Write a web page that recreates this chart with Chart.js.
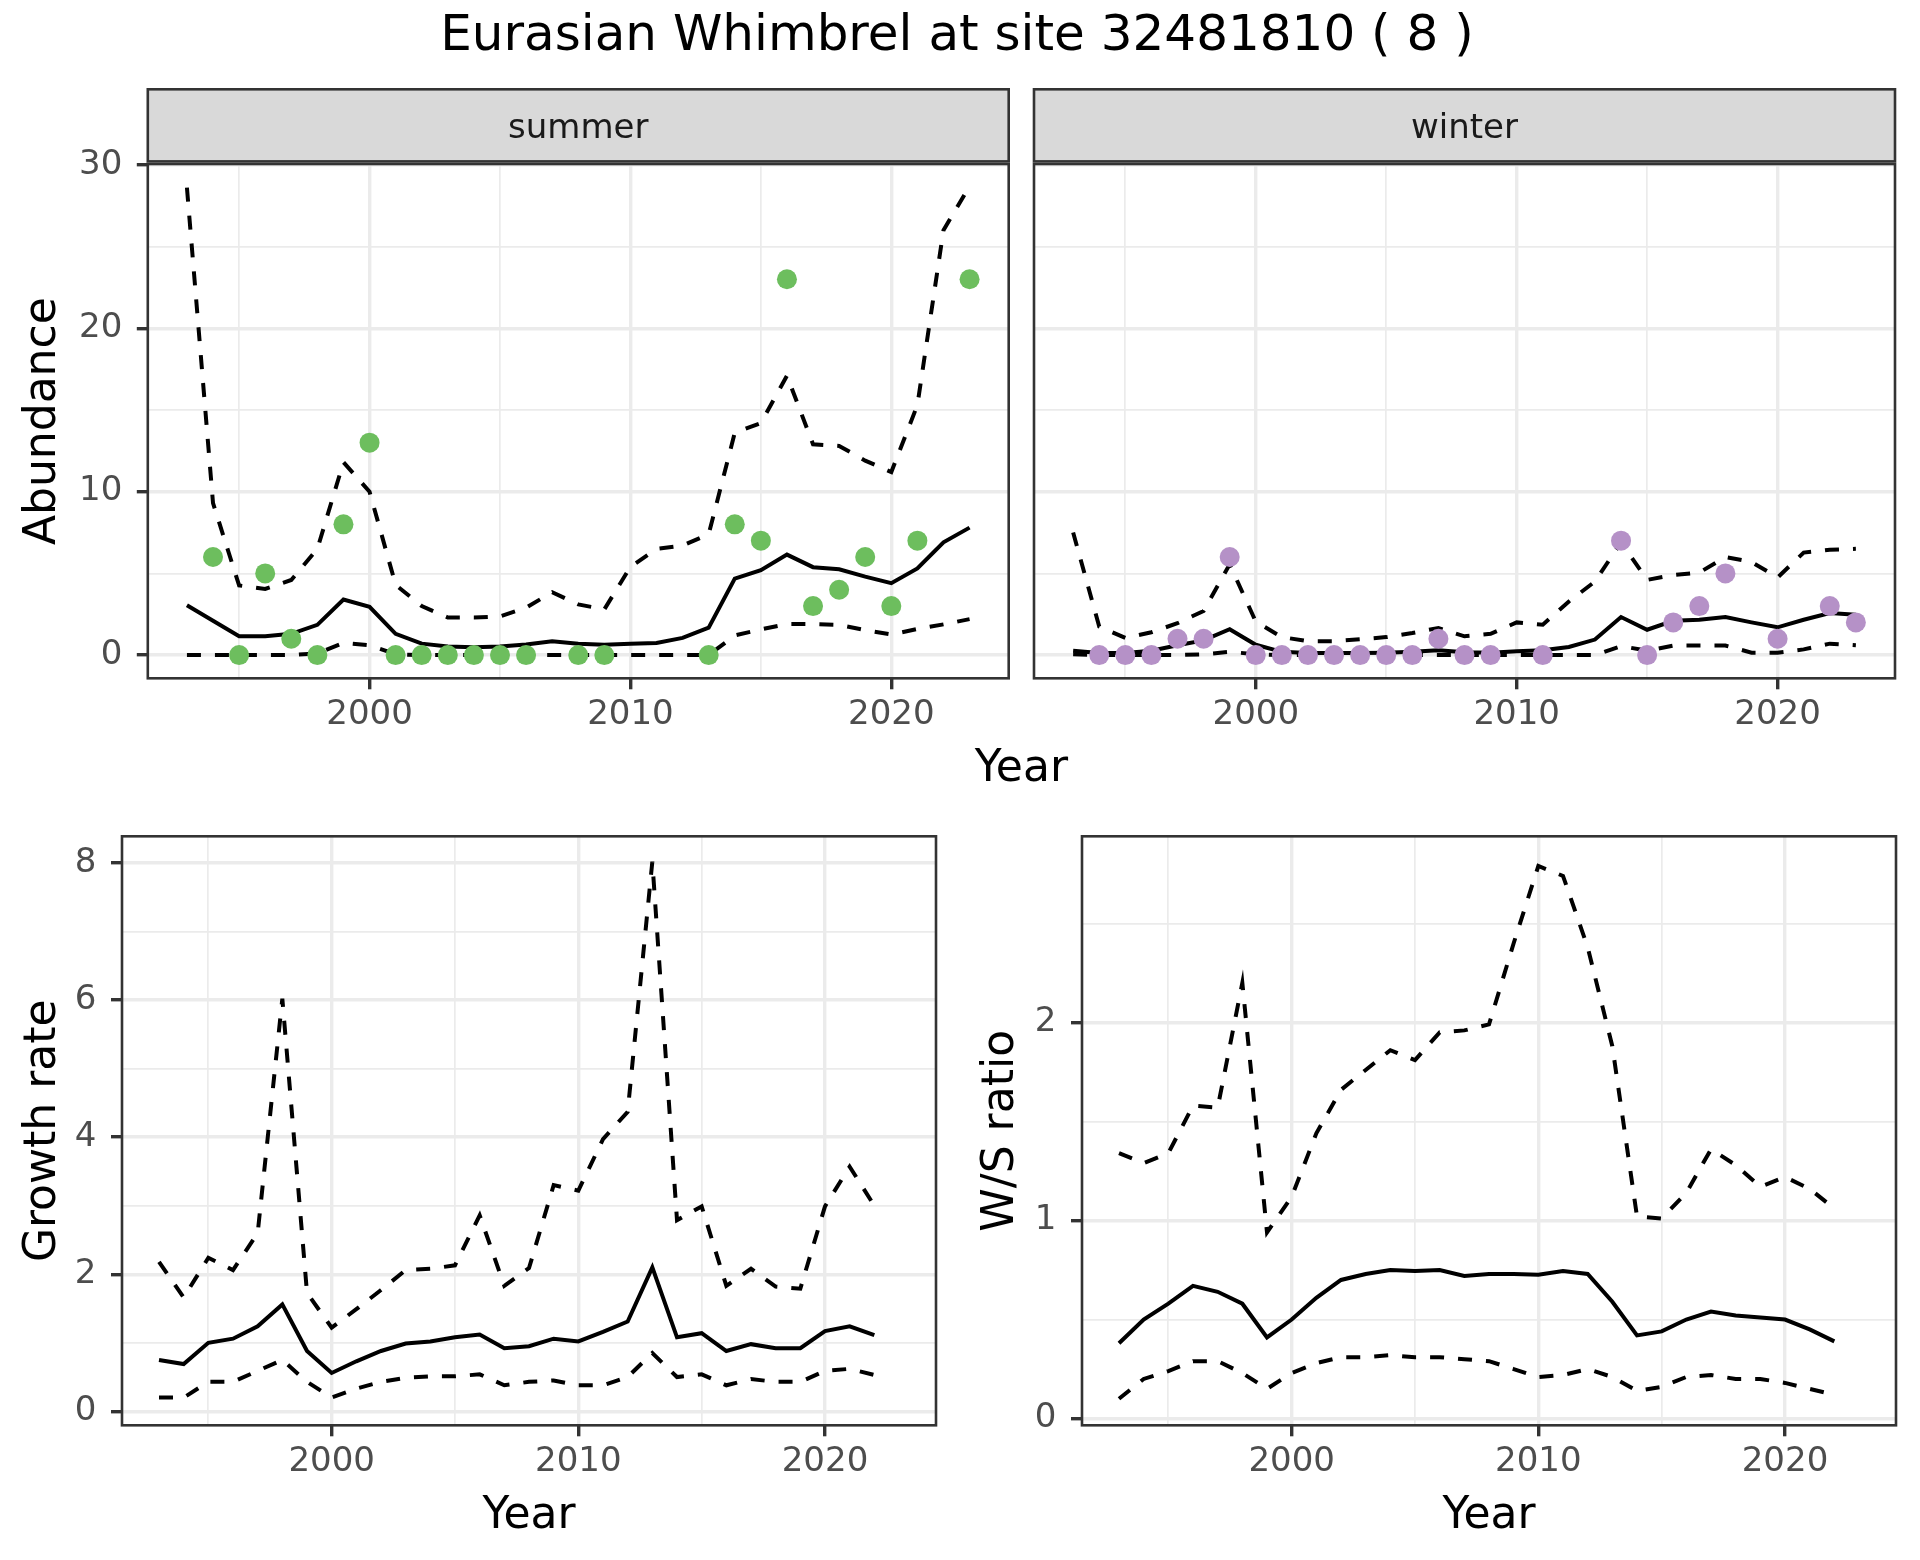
<!DOCTYPE html>
<html>
<head>
<meta charset="utf-8">
<script src="https://cdn.jsdelivr.net/npm/chart.js@4.4.1/dist/chart.umd.min.js"></script>
<style>
  html, body { margin: 0; padding: 0; background: #ffffff; }
  #page { position: relative; width: 1920px; height: 1560px; overflow: hidden; font-family: "DejaVu Sans", sans-serif; }
  #page canvas { position: absolute; left: 0; top: 0; }
  .label { position: absolute; line-height: 1; white-space: nowrap; color: #000000; text-align: center; }
</style>
</head>
<body>
<div id="page">
  <canvas id="summerChart" width="1920" height="1560"></canvas>
  <canvas id="winterChart" width="1920" height="1560"></canvas>
  <canvas id="growthChart" width="1920" height="1560"></canvas>
  <canvas id="ratioChart" width="1920" height="1560"></canvas>
  <div class="label" style="left:0;width:1914px;top:7.7px;font-size:50px;">Eurasian Whimbrel at site 32481810 ( 8 )</div>
  <div class="label" style="left:921.4px;width:200px;top:743.5px;font-size:44px;">Year</div>
</div>
<script>
// years of the modelled series
const years = [1993, 1994, 1995, 1996, 1997, 1998, 1999, 2000, 2001, 2002, 2003, 2004, 2005, 2006, 2007,
  2008, 2009, 2010, 2011, 2012, 2013, 2014, 2015, 2016, 2017, 2018, 2019, 2020, 2021, 2022, 2023];
const rateYears = [1993, 1994, 1995, 1996, 1997, 1998, 1999, 2000, 2001, 2002, 2003, 2004, 2005, 2006, 2007,
  2008, 2009, 2010, 2011, 2012, 2013, 2014, 2015, 2016, 2017, 2018, 2019, 2020, 2021, 2022];

// summer abundance
const summerMean = [3.05, 2.1, 1.16, 1.16, 1.3, 1.85, 3.4, 2.95, 1.3, 0.7, 0.52, 0.48, 0.52, 0.65, 0.84,
  0.7, 0.63, 0.7, 0.74, 1.05, 1.68, 4.68, 5.2, 6.15, 5.38, 5.25, 4.8, 4.4, 5.3, 6.9, 7.8];
const summerLower = [0, 0, 0, 0, 0, 0.1, 0.75, 0.6, 0.05, 0, 0, 0, 0, 0, 0,
  0, 0, 0, 0, 0, 0, 1.2, 1.57, 1.9, 1.9, 1.85, 1.53, 1.26, 1.6, 1.88, 2.2];
const summerUpper = [28.6, 9.3, 4.26, 4.05, 4.6, 6.5, 11.8, 10.0, 4.3, 3.0, 2.3, 2.3, 2.37, 2.9, 3.85,
  3.1, 2.8, 5.4, 6.5, 6.7, 7.4, 13.6, 14.2, 17.1, 12.9, 12.8, 11.9, 11.2, 15.3, 26.0, 28.7];
const summerObsYears = [1994, 1995, 1996, 1997, 1998, 1999, 2000, 2001, 2002, 2003, 2004, 2005, 2006,
  2008, 2009, 2013, 2014, 2015, 2016, 2017, 2018, 2019, 2020, 2021, 2023];
const summerObs = [6, 0, 5, 1, 0, 8, 13, 0, 0, 0, 0, 0, 0, 0, 0, 0, 8, 7, 23, 3, 4, 6, 3, 7, 23];

// winter abundance
const winterMean = [0.27, 0.13, 0.13, 0.27, 0.6, 0.9, 1.58, 0.63, 0.2, 0.13, 0.13, 0.13, 0.15, 0.2, 0.3,
  0.17, 0.15, 0.23, 0.29, 0.5, 0.95, 2.33, 1.55, 2.1, 2.16, 2.33, 2.0, 1.7, 2.16, 2.57, 2.47];
const winterLower = [0.05, 0, 0, 0, 0, 0.05, 0.2, 0.05, 0, 0, 0, 0, 0, 0, 0,
  0, 0, 0, 0, 0, 0, 0.55, 0.27, 0.58, 0.58, 0.58, 0.15, 0.15, 0.35, 0.7, 0.6];
const winterUpper = [7.5, 1.75, 1.05, 1.4, 1.95, 2.7, 5.55, 2.05, 1.1, 0.85, 0.85, 0.97, 1.1, 1.35, 1.66,
  1.15, 1.3, 2.0, 1.86, 3.28, 4.5, 6.9, 4.6, 4.9, 5.05, 6.0, 5.7, 4.75, 6.27, 6.45, 6.5];
const winterObsYears = [1994, 1995, 1996, 1997, 1998, 1999, 2000, 2001, 2002, 2003, 2004, 2005, 2006,
  2007, 2008, 2009, 2011, 2014, 2015, 2016, 2017, 2018, 2020, 2022, 2023];
const winterObs = [0, 0, 0, 1, 1, 6, 0, 0, 0, 0, 0, 0, 0, 1, 0, 0, 0, 7, 0, 2, 3, 5, 1, 3, 2];

// growth rate
const growthMean = [0.75, 0.69, 1.0, 1.06, 1.24, 1.56, 0.88, 0.56, 0.73, 0.88, 0.99, 1.02, 1.08, 1.12, 0.92,
  0.95, 1.06, 1.02, 1.16, 1.31, 2.1, 1.08, 1.14, 0.88, 0.98, 0.92, 0.92, 1.17, 1.24, 1.11];
const growthLower = [0.2, 0.2, 0.43, 0.43, 0.59, 0.75, 0.43, 0.2, 0.33, 0.43, 0.49, 0.51, 0.51, 0.54, 0.38,
  0.43, 0.45, 0.38, 0.38, 0.5, 0.85, 0.5, 0.54, 0.38, 0.47, 0.43, 0.43, 0.59, 0.62, 0.53];
const growthUpper = [2.18, 1.66, 2.24, 2.06, 2.6, 6.02, 1.73, 1.22, 1.49, 1.77, 2.06, 2.08, 2.13, 2.86, 1.83,
  2.09, 3.3, 3.22, 3.97, 4.37, 8.02, 2.79, 2.99, 1.83, 2.08, 1.82, 1.79, 2.99, 3.57, 3.0];

// winter / summer ratio
const ratioMean = [0.38, 0.5, 0.58, 0.67, 0.64, 0.58, 0.41, 0.5, 0.61, 0.7, 0.73, 0.75, 0.745, 0.75, 0.72,
  0.73, 0.73, 0.726, 0.745, 0.73, 0.59, 0.42, 0.44, 0.5, 0.54, 0.52, 0.51, 0.5, 0.45, 0.39];
const ratioLower = [0.1, 0.2, 0.24, 0.29, 0.29, 0.23, 0.15, 0.23, 0.28, 0.31, 0.31, 0.32, 0.31, 0.31, 0.3,
  0.29, 0.25, 0.21, 0.22, 0.25, 0.21, 0.14, 0.16, 0.21, 0.22, 0.2, 0.2, 0.18, 0.15, 0.12];
const ratioUpper = [1.34, 1.29, 1.34, 1.58, 1.57, 2.2, 0.94, 1.12, 1.44, 1.66, 1.76, 1.86, 1.81, 1.95, 1.96,
  1.99, 2.4, 2.79, 2.74, 2.38, 1.88, 1.02, 1.01, 1.14, 1.36, 1.28, 1.17, 1.22, 1.16, 1.06];

// ticks (all grid lines) and the labelled ones
const yearTicks = [1995, 2000, 2005, 2010, 2015, 2020];
const yearLabels = [2000, 2010, 2020];
const abundanceTicks = [0, 5, 10, 15, 20, 25, 30];
const abundanceLabels = [0, 10, 20, 30];
const growthTicks = [0, 1, 2, 3, 4, 5, 6, 7, 8];
const growthLabels = [0, 2, 4, 6, 8];
const ratioTicks = [0, 0.5, 1, 1.5, 2, 2.5];
const ratioLabels = [0, 1, 2];

const GREEN = '#6DBE5E';
const PURPLE = '#B591C7';

Chart.defaults.font.family = '"DejaVu Sans", sans-serif';
Chart.defaults.color = '#4D4D4D';

const isIn = (list, v) => list.some((t) => Math.abs(t - v) < 1e-9);
const pairs = (xs, ys) => xs.map((x, i) => ({ x, y: ys[i] }));

function bandDatasets(xs, mean, lower, upper) {
  const base = { type: 'line', borderColor: '#000000', borderWidth: 4, pointRadius: 0, fill: false, tension: 0 };
  return [
    { ...base, data: pairs(xs, upper), borderDash: [14, 14], order: 3 },
    { ...base, data: pairs(xs, lower), borderDash: [14, 14], order: 3 },
    { ...base, data: pairs(xs, mean), order: 2 }
  ];
}

function obsDataset(xs, ys, colour) {
  return {
    type: 'scatter', data: pairs(xs, ys), showLine: false, order: 1,
    pointRadius: 10, pointHoverRadius: 10, pointBorderWidth: 0,
    pointBackgroundColor: colour, borderColor: colour
  };
}

function gridStyle(majors, showTicks) {
  return {
    color: '#EBEBEB',
    lineWidth: (c) => (isIn(majors, c.tick.value) ? 3.4 : 1.7),
    drawTicks: showTicks,
    tickLength: showTicks ? 11 : 0,
    tickWidth: 3.4,
    tickColor: (c) => (isIn(majors, c.tick.value) ? '#333333' : 'rgba(0,0,0,0)')
  };
}

function xAxis(height, title) {
  return {
    type: 'linear', min: 1991.5, max: 2024.5,
    afterBuildTicks: (s) => { s.ticks = yearTicks.map((v) => ({ value: v })); },
    afterFit: (s) => { s.height = height; },
    border: { display: false },
    grid: gridStyle(yearLabels, true),
    ticks: {
      color: '#4D4D4D', font: { size: 34 }, padding: 5, maxRotation: 0, autoSkip: false,
      callback: (v) => (isIn(yearLabels, v) ? String(v) : '')
    },
    title: title
      ? { display: true, text: title, color: '#000000', font: { size: 44 }, padding: { top: 0, bottom: 16.6 } }
      : { display: false }
  };
}

function yAxis(min, max, tickValues, majors, width, showLabels, title, titlePad) {
  return {
    type: 'linear', min, max,
    afterBuildTicks: (s) => { s.ticks = tickValues.map((v) => ({ value: v })); },
    afterFit: (s) => { s.width = width; },
    border: { display: false },
    grid: gridStyle(majors, showLabels),
    ticks: {
      display: showLabels, color: '#4D4D4D', font: { size: 34 }, padding: 14.5, autoSkip: false,
      callback: (v) => (isIn(majors, v) ? String(v) : '')
    },
    title: title
      ? { display: true, text: title, color: '#000000', font: { size: 44 }, padding: { top: titlePad, bottom: 0 } }
      : { display: false }
  };
}

// panel border and facet strip
const panelFrame = {
  id: 'panelFrame',
  afterDatasetsDraw(chart, args, opts) {
    const { ctx, chartArea: a } = chart;
    ctx.save();
    ctx.strokeStyle = '#333333';
    ctx.lineWidth = 2.6;
    ctx.strokeRect(a.left, a.top, a.right - a.left, a.bottom - a.top);
    if (opts.strip) {
      const top = opts.stripTop;
      const h = a.top - 2.6 - top;
      ctx.fillStyle = '#D9D9D9';
      ctx.fillRect(a.left, top, a.right - a.left, h);
      ctx.strokeRect(a.left, top, a.right - a.left, h);
      ctx.fillStyle = '#1A1A1A';
      ctx.font = '34px "DejaVu Sans"';
      ctx.textAlign = 'center';
      ctx.textBaseline = 'alphabetic';
      ctx.fillText(opts.strip, (a.left + a.right) / 2, top + 49);
    }
    ctx.restore();
  }
};

function baseOptions(padding, scales, frame) {
  return {
    responsive: false,
    animation: false,
    devicePixelRatio: 1,
    events: [],
    layout: { padding },
    scales,
    plugins: { legend: { display: false }, tooltip: { enabled: false }, panelFrame: frame }
  };
}

new Chart(document.getElementById('summerChart'), {
  type: 'line',
  data: { datasets: [obsDataset(summerObsYears, summerObs, GREEN), ...bandDatasets(years, summerMean, summerLower, summerUpper)] },
  options: baseOptions(
    { left: 0, right: 911.3, top: 164, bottom: 821.7 },
    { x: xAxis(60, null), y: yAxis(-1.42, 30.05, abundanceTicks, abundanceLabels, 147.8, true, 'Abundance', 17.2) },
    { strip: 'summer', stripTop: 89.3 }
  ),
  plugins: [panelFrame]
});

new Chart(document.getElementById('winterChart'), {
  type: 'line',
  data: { datasets: [obsDataset(winterObsYears, winterObs, PURPLE), ...bandDatasets(years, winterMean, winterLower, winterUpper)] },
  options: baseOptions(
    { left: 1034, right: 25, top: 164, bottom: 821.7 },
    { x: xAxis(60, null), y: yAxis(-1.42, 30.05, abundanceTicks, abundanceLabels, 0, false, null, 0) },
    { strip: 'winter', stripTop: 89.3 }
  ),
  plugins: [panelFrame]
});

new Chart(document.getElementById('growthChart'), {
  type: 'line',
  data: { datasets: bandDatasets(rateYears, growthMean, growthLower, growthUpper) },
  options: baseOptions(
    { left: 0, right: 984, top: 836.3, bottom: 0 },
    { x: xAxis(134.7, 'Year'), y: yAxis(-0.204, 8.39, growthTicks, growthLabels, 122, true, 'Growth rate', 17.2) },
    {}
  ),
  plugins: [panelFrame]
});

new Chart(document.getElementById('ratioChart'), {
  type: 'line',
  data: { datasets: bandDatasets(rateYears, ratioMean, ratioLower, ratioUpper) },
  options: baseOptions(
    { left: 960, right: 24, top: 836.3, bottom: 0 },
    { x: xAxis(134.7, 'Year'), y: yAxis(-0.034, 2.94, ratioTicks, ratioLabels, 122, true, 'W/S ratio', 15.6) },
    {}
  ),
  plugins: [panelFrame]
});
</script>
</body>
</html>
